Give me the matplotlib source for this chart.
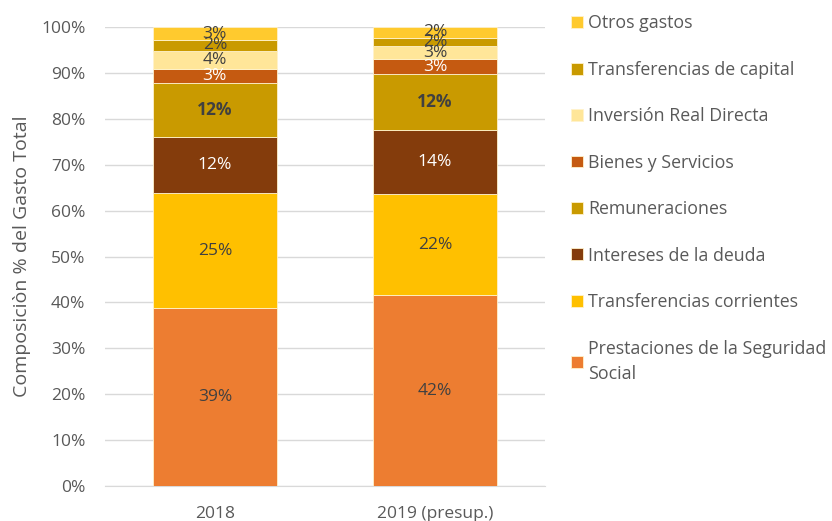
import matplotlib
matplotlib.use("Agg")
import matplotlib.pyplot as plt
from matplotlib.ticker import PercentFormatter
import numpy as np

years = ["2018", "2019 (presup.)"]
categories = [
    "Prestaciones de la Seguridad\nSocial",
    "Transferencias corrientes",
    "Intereses de la deuda",
    "Remuneraciones",
    "Bienes y Servicios",
    "Inversión Real Directa",
    "Transferencias de capital",
    "Otros gastos",
]
# share of total spending (%), per category, [2018, 2019]
prestaciones = [38.8, 41.6]
transf_corrientes = [25.0, 22.0]
intereses = [12.2, 14.0]
remuneraciones = [11.8, 12.2]
bienes_servicios = [3.0, 3.2]
inversion = [4.0, 2.9]
transf_capital = [2.4, 1.8]
otros = [2.8, 2.3]

series = [prestaciones, transf_corrientes, intereses, remuneraciones,
          bienes_servicios, inversion, transf_capital, otros]
colors = ["#ED7D31", "#FFC000", "#843C0C", "#C99A00",
          "#C55A11", "#FFE699", "#C99A00", "#FFCA2E"]
label_colors = ["#404040", "#404040", "white", "#404040",
                "white", "#404040", "#404040", "#404040"]
label_bold = [False, False, False, True, False, False, False, False]

plt.rcParams["font.family"] = ["Open Sans", "DejaVu Sans"]
grey = "#595959"

fig = plt.figure(figsize=(8.32, 5.21), dpi=100)
ax = fig.add_axes([0.126, 0.067, 0.529, 0.881])

x = np.arange(len(years))
bottom = np.zeros(len(years))
handles = []
for vals, col, lcol, bold, name in zip(series, colors, label_colors, label_bold, categories):
    vals = np.array(vals)
    bars = ax.bar(x, vals, 0.565, bottom=bottom, color=col, edgecolor="#FFF2CC",
                  linewidth=0.6, label=name, zorder=3)
    handles.append(bars)
    for xi, v, b in zip(x, vals, bottom):
        ax.text(xi, b + v / 2, f"{v:.0f}%", ha="center", va="center",
                fontsize=12.5, color=lcol, fontweight="bold" if bold else "normal",
                zorder=4)
    bottom += vals

ax.set_xlim(-0.5, 1.5)
ax.set_ylim(0, 100)
ax.set_yticks(np.arange(0, 101, 10))
ax.yaxis.set_major_formatter(PercentFormatter(decimals=0))
ax.set_xticks(x)
ax.set_xticklabels(years)
ax.grid(axis="y", color="#D9D9D9", linewidth=1, zorder=0)
for s in ["top", "right", "left"]:
    ax.spines[s].set_visible(False)
ax.spines["bottom"].set_color("#D9D9D9")
ax.tick_params(axis="both", length=0, labelsize=12.5, labelcolor=grey)
ax.tick_params(axis="y", pad=14)
ax.tick_params(axis="x", pad=14)
ax.set_ylabel("Composiciòn % del Gasto Total", fontsize=14, color=grey, labelpad=7)

leg = fig.legend(handles[::-1], categories[::-1], loc="upper left",
                 bbox_to_anchor=(0.678, 0.986), frameon=False, fontsize=12.8,
                 labelspacing=1.6, handlelength=0.66, handleheight=0.66,
                 handletextpad=0.3, borderaxespad=0)
for t in leg.get_texts():
    t.set_color(grey)
leg.get_texts()[-1].set_linespacing(1.5)

fig.savefig("out.png", dpi=100)
